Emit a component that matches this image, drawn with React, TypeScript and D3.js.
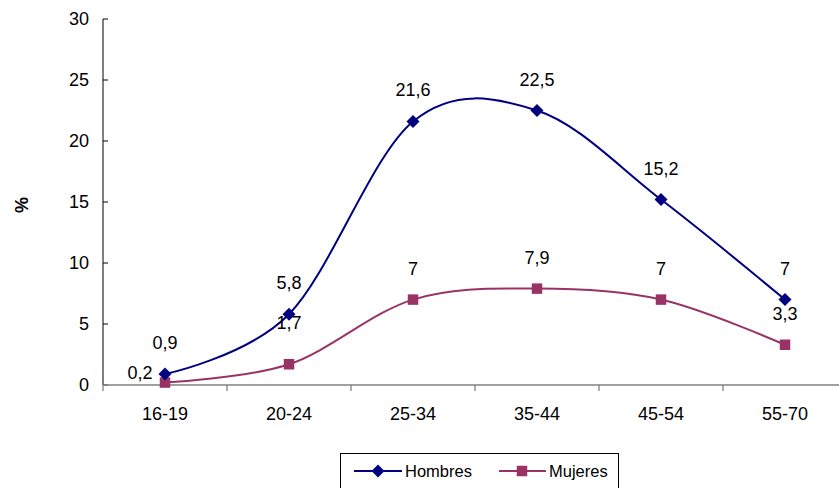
import React from "react";
import * as d3 from "d3";

const categories = ["16-19", "20-24", "25-34", "35-44", "45-54", "55-70"];
const hombres = [0.9, 5.8, 21.6, 22.5, 15.2, 7];
const mujeres = [0.2, 1.7, 7, 7.9, 7, 3.3];
const yTicks = [0, 5, 10, 15, 20, 25, 30];

const W = 839, H = 488;
const left = 103, right = 847, top = 19, bottom = 385;
const font = "Liberation Sans, Arial, sans-serif";

export default function App() {
  const x = d3.scaleBand<string>().domain(categories).range([left, right]);
  const y = d3.scaleLinear().domain([0, 30]).range([bottom, top]);
  const cx = (c: string) => (x(c) as number) + x.bandwidth() / 2;
  const line = d3.line<number>().x((_, i) => cx(categories[i])).y((d) => y(d)).curve(d3.curveCatmullRom.alpha(0));
  const fmt = (v: number) => String(v).replace(".", ",");
  const r = 6.5;
  const diamond = `M0,${-r}L${r},0L0,${r}L${-r},0Z`;
  const square = d3.symbol(d3.symbolSquare, 110)();
  const ticksX = d3.range(categories.length + 1).map((i) => left + i * x.step());

  const labelPos = (series: string, i: number, v: number) => {
    let dx = 0, dy = -25;
    if (series === "m" && i === 0) { dx = -25; dy = -4; }
    if (series === "m" && i === 1) { dy = -35; }
    return [cx(categories[i]) + dx, y(v) + dy];
  };

  return (
    <svg width={W} height={H} style={{ position: "absolute", left: 0, top: 0, background: "#fff" }}>
      <rect width={W} height={H} fill="#fff" />
      <line x1={left} x2={left} y1={top} y2={bottom} stroke="#000" strokeWidth={1} />
      {yTicks.map((t) => (
        <g key={t}>
          <line x1={left} x2={left + 5} y1={y(t)} y2={y(t)} stroke="#000" />
          <text x={89} y={y(t) + 6} textAnchor="end" fontFamily={font} fontSize={18}>{t}</text>
        </g>
      ))}
      <line x1={left} x2={right} y1={bottom} y2={bottom} stroke="#808080" strokeWidth={1.3} />
      {ticksX.map((t, i) => (
        <line key={i} x1={t} x2={t} y1={bottom} y2={bottom + 6} stroke="#808080" strokeWidth={1.3} />
      ))}
      {categories.map((c) => (
        <text key={c} x={cx(c)} y={420} textAnchor="middle" fontFamily={font} fontSize={18}>{c}</text>
      ))}
      <text transform={`translate(28,205) rotate(-90)`} textAnchor="middle" fontFamily={font} fontSize={18} fontWeight="bold">%</text>

      <path d={line(hombres) as string} fill="none" stroke="#000080" strokeWidth={2} />
      <path d={line(mujeres) as string} fill="none" stroke="#993366" strokeWidth={2} />
      {mujeres.map((v, i) => (
        <path key={"ms" + i} d={square as string} transform={`translate(${cx(categories[i])},${y(v)})`} fill="#993366" />
      ))}
      {hombres.map((v, i) => (
        <path key={"hs" + i} d={diamond} transform={`translate(${cx(categories[i])},${y(v)})`} fill="#000080" />
      ))}
      {hombres.map((v, i) => {
        const [lx, ly] = labelPos("h", i, v);
        return <text key={"hl" + i} x={lx} y={ly} textAnchor="middle" fontFamily={font} fontSize={18}>{fmt(v)}</text>;
      })}
      {mujeres.map((v, i) => {
        const [lx, ly] = labelPos("m", i, v);
        return <text key={"ml" + i} x={lx} y={ly} textAnchor="middle" fontFamily={font} fontSize={18}>{fmt(v)}</text>;
      })}

      <rect x={340.5} y={453.5} width={278} height={45} fill="#fff" stroke="#000" strokeWidth={1} />
      <line x1={354} x2={402} y1={471} y2={471} stroke="#000080" strokeWidth={2} />
      <path d={diamond} transform="translate(378,471)" fill="#000080" />
      <text x={405} y={477} fontFamily={font} fontSize={16.5}>Hombres</text>
      <line x1={499} x2={546} y1={471} y2={471} stroke="#993366" strokeWidth={2} />
      <path d={square as string} transform="translate(522,471)" fill="#993366" />
      <text x={549} y={477} fontFamily={font} fontSize={16.5}>Mujeres</text>
    </svg>
  );
}
